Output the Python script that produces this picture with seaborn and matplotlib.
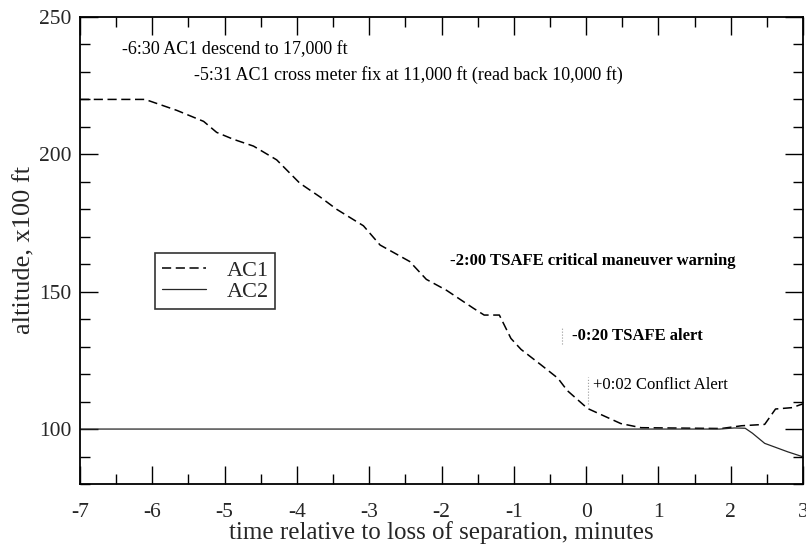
import matplotlib
matplotlib.use("Agg")
import matplotlib.pyplot as plt
import seaborn as sns
from matplotlib.ticker import MultipleLocator

# ---- data ----
ac1_time = [-7.0, -6.1, -5.66, -5.29, -5.11, -4.88, -4.6, -4.28, -3.96, -3.68, -3.45,
            -3.08, -2.85, -2.44, -2.21, -1.93, -1.56, -1.41, -1.2, -1.04, -0.9, -0.63,
            -0.39, -0.26, 0.02, 0.48, 0.76, 1.87, 2.15, 2.47, 2.62, 2.85, 3.0]
ac1_alt = [220, 220, 216, 212, 208, 205.5, 203, 198, 189.5, 184.5, 180,
           174, 167, 161, 154.5, 150.5, 144, 141.5, 141.5, 133, 129, 123.5,
           118.5, 114, 107.5, 102, 100.5, 100.2, 101.2, 101.7, 107.3, 107.8, 109.2]

ac2_time = [-7.0, 1.85, 2.05, 2.2, 2.3, 2.47, 2.79, 3.0]
ac2_alt = [100, 100, 100.4, 100.3, 98.5, 94.8, 91.7, 89.9]

series_names = ["AC1", "AC2"]

ann_text = ["-6:30 AC1 descend to 17,000 ft",
            "-5:31 AC1 cross meter fix at 11,000 ft (read back 10,000 ft)",
            "-2:00 TSAFE critical maneuver warning",
            "-0:20 TSAFE alert",
            "+0:02 Conflict Alert"]
ann_time = [-6.42, -5.42, -1.88, -0.19, 0.09]
ann_alt = [238, 229, 161, 134, 116]
ann_bold = [False, False, True, True, False]
ann_size = [13, 13, 12, 12, 12]

event_time = [-0.333, 0.033]
event_lo = [131, 109]
event_hi = [137, 119]

xlim = (-7, 3)
ylim = (80, 250)

# ---- drawing ----
sns.set_theme(style="ticks")
plt.rcParams["font.family"] = ["Liberation Serif", "DejaVu Serif"]
plt.rcParams["axes.unicode_minus"] = False

fig = plt.figure(figsize=(8.06, 5.46), dpi=100)
ax = fig.add_axes([80 / 806, 62 / 546, 723 / 806, 467 / 546])

sns.lineplot(x=ac1_time, y=ac1_alt, ax=ax, color="black", lw=1.1,
             linestyle=(0, (6, 3)), label=series_names[0], estimator=None, sort=False)
sns.lineplot(x=ac2_time, y=ac2_alt, ax=ax, color="0.15", lw=0.9,
             label=series_names[1], estimator=None, sort=False)

ax.vlines(event_time, event_lo, event_hi, colors="0.6", lw=0.8, linestyles=":")

for txt, t, a, b, fs in zip(ann_text, ann_time, ann_alt, ann_bold, ann_size):
    ax.text(t, a, txt, fontsize=fs, fontweight="bold" if b else "normal",
            ha="left", va="center", color="black")

ax.set_xlim(*xlim)
ax.set_ylim(*ylim)
ax.xaxis.set_major_locator(MultipleLocator(1))
ax.xaxis.set_minor_locator(MultipleLocator(0.5))
ax.yaxis.set_major_locator(MultipleLocator(50))
ax.yaxis.set_minor_locator(MultipleLocator(10))
ax.tick_params(which="both", direction="in", top=True, right=True, color="black")
ax.tick_params(which="major", length=13, width=1.0)
ax.tick_params(which="minor", length=7, width=1.0)
ax.tick_params(axis="x", which="major", labelsize=15.5, pad=14)
ax.tick_params(axis="y", which="major", labelsize=15.5, pad=6)
for s in ax.spines.values():
    s.set_linewidth(1.3)
    s.set_color("black")

ax.set_xlabel("time relative to loss of separation, minutes", fontsize=18, labelpad=-1)
ax.set_ylabel("altitude, x100 ft", fontsize=19, labelpad=3)

leg = ax.legend(loc="lower left", bbox_to_anchor=(0.104, 0.375), fontsize=16,
                frameon=True, fancybox=False, edgecolor="black", handlelength=2.0,
                borderpad=0.3, labelspacing=0.05, handletextpad=0.9,
                borderaxespad=0.0)
leg.get_frame().set_linewidth(1.2)

fig.savefig("out.png", dpi=100)
